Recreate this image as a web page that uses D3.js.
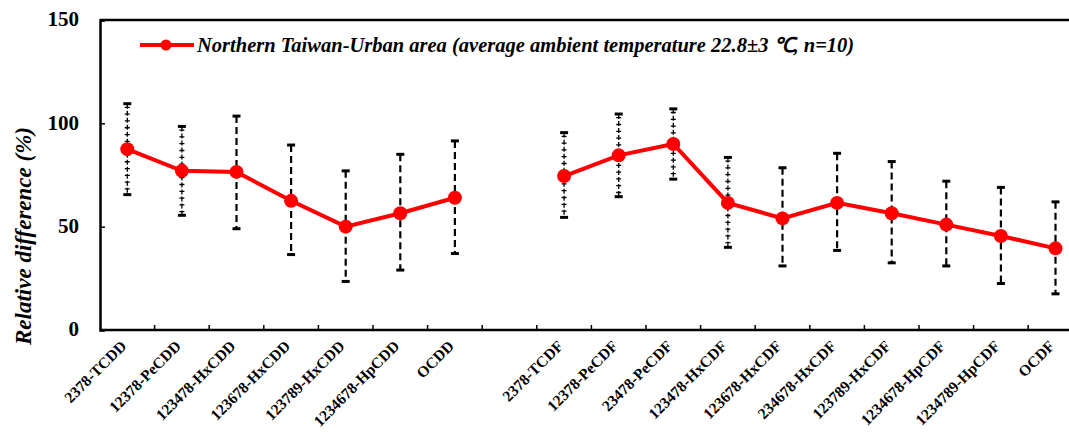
<!DOCTYPE html>
<html>
<head>
<meta charset="utf-8">
<script src="https://cdn.jsdelivr.net/npm/d3@7"></script>
<style>
  body { margin: 0; background: #fff; }
  text { font-family: "Liberation Serif", "Times New Roman", serif; }
</style>
</head>
<body>
<svg width="1069" height="435"></svg>
<script>
// congeners, with an empty slot between the PCDD and PCDF groups
let categories = ["2378-TCDD","12378-PeCDD","123478-HxCDD","123678-HxCDD","123789-HxCDD","1234678-HpCDD","OCDD",
                  "",
                  "2378-TCDF","12378-PeCDF","23478-PeCDF","123478-HxCDF","123678-HxCDF","234678-HxCDF","123789-HxCDF","1234678-HpCDF","1234789-HpCDF","OCDF"];
let means = [87.5, 77, 76.5, 62.5, 50, 56.5, 64,
             null,
             74.5, 84.5, 90, 61.5, 54, 61.5, 56.5, 51, 45.5, 39.5];
let upper = [109.5, 98.5, 103.5, 89.5, 77, 85, 91.5,
             null,
             95.5, 104.5, 107, 83.5, 78.5, 85.5, 81.5, 72, 69, 62];
let lower = [65.5, 55.5, 49, 36.5, 23.5, 29, 37,
             null,
             54.5, 64.5, 73, 40, 31, 38.5, 32.5, 31, 22.5, 17.5];
// error bar style: dotted for the first few of each group, dashed for the rest
let barStyle = ["dot","dot","dash","dash","dash","dash","dash",
                null,
                "dot","dot","dot","dot","dash","dash","dash","dash","dash","dash"];
let yTicks = [0, 50, 100, 150];
let seriesName = "Northern Taiwan-Urban area (average ambient temperature 22.8±3 ℃, n=10)";

let svg = d3.select("svg"),
    plotLeft = 100, plotTop = 20, plotBottom = 330,
    slot = 54.6;

let data = categories.map((c, i) => ({cat: c, key: i, mean: means[i], hi: upper[i], lo: lower[i], style: barStyle[i]}));

let x = d3.scaleBand()
    .domain(data.map(d => d.key))
    .range([plotLeft, plotLeft + slot * categories.length])
    .padding(0);

let y = d3.scaleLinear()
    .domain([0, 150])
    .range([plotBottom, plotTop]);

// frame: left axis, top line, bottom axis
svg.append("line").attr("x1", plotLeft).attr("x2", 1069).attr("y1", plotTop).attr("y2", plotTop)
    .attr("stroke", "#000").attr("stroke-width", 2.5);

let yAxis = svg.append("g")
    .attr("transform", "translate(" + plotLeft + ",0)")
    .call(d3.axisRight(y).tickValues(yTicks).tickSize(5).tickFormat(""));
yAxis.select(".domain").attr("stroke-width", 2.5);
yAxis.selectAll(".tick line").attr("stroke-width", 1.5);

svg.append("g").selectAll("text")
    .data(yTicks)
    .enter().append("text")
      .attr("x", 79)
      .attr("y", d => y(d))
      .attr("dy", "0.3em")
      .attr("text-anchor", "end")
      .attr("font-size", 21)
      .attr("font-weight", "bold")
      .text(d => d);

let tickPos = d3.range(1, categories.length).map(i => plotLeft + slot * i);
let xAxis = svg.append("g");
xAxis.append("line").attr("x1", plotLeft).attr("x2", 1069).attr("y1", plotBottom).attr("y2", plotBottom)
    .attr("stroke", "#000").attr("stroke-width", 2.5);
xAxis.selectAll(".xt")
    .data(tickPos)
    .enter().append("line")
      .attr("class", "xt")
      .attr("x1", d => d).attr("x2", d => d)
      .attr("y1", plotBottom).attr("y2", plotBottom - 5)
      .attr("stroke", "#000").attr("stroke-width", 1.5);

svg.append("g").selectAll("text")
    .data(data.filter(d => d.cat !== ""))
    .enter().append("text")
      .attr("transform", d => "translate(" + (x(d.key) + x.bandwidth() / 2) + "," + (plotBottom + 17) + ") rotate(-45)")
      .attr("text-anchor", "end")
      .attr("font-size", 15.5)
      .attr("font-weight", "bold")
      .text(d => d.cat);

// y title
svg.append("text")
    .attr("transform", "translate(31,236) rotate(-90)")
    .attr("text-anchor", "middle")
    .attr("font-size", 23)
    .attr("font-style", "italic")
    .attr("font-weight", "bold")
    .text("Relative difference (%)");

let cx = d => x(d.key) + x.bandwidth() / 2;
let pts = data.filter(d => d.mean != null);

// error bars
let bars = svg.append("g").selectAll("g")
    .data(pts)
    .enter().append("g");

bars.filter(d => d.style === "dash").append("line")
    .attr("x1", cx).attr("x2", cx)
    .attr("y1", d => y(d.hi)).attr("y2", d => y(d.lo))
    .attr("stroke", "#000").attr("stroke-width", 2.2)
    .attr("stroke-dasharray", "7,4");

bars.filter(d => d.style === "dot").append("line")
    .attr("x1", cx).attr("x2", cx)
    .attr("y1", d => y(d.hi)).attr("y2", d => y(d.lo))
    .attr("stroke", "#000").attr("stroke-width", 1.3)
    .attr("stroke-dasharray", "5,2");
bars.filter(d => d.style === "dot").append("line")
    .attr("x1", cx).attr("x2", cx)
    .attr("y1", d => y(d.hi) + 3).attr("y2", d => y(d.lo))
    .attr("stroke", "#000").attr("stroke-width", 5)
    .attr("stroke-dasharray", "1.3,5.5");

bars.selectAll(".cap")
    .data(d => [{x: cx(d), v: d.hi}, {x: cx(d), v: d.lo}])
    .enter().append("line")
      .attr("x1", c => c.x - 4).attr("x2", c => c.x + 4)
      .attr("y1", c => y(c.v)).attr("y2", c => y(c.v))
      .attr("stroke", "#000").attr("stroke-width", 3);

// series line, split at the empty slot
let line = d3.line()
    .defined(d => d.mean != null)
    .x(cx)
    .y(d => y(d.mean));

svg.append("path")
    .datum(data)
    .attr("fill", "none")
    .attr("stroke", "#ff0000")
    .attr("stroke-width", 4)
    .attr("d", line);

svg.append("g").selectAll("circle")
    .data(pts)
    .enter().append("circle")
      .attr("cx", cx)
      .attr("cy", d => y(d.mean))
      .attr("r", 7)
      .attr("fill", "#ff0000");

// legend
let legend = svg.append("g").attr("transform", "translate(140,45)");
legend.append("line").attr("x1", 0).attr("x2", 54).attr("y1", 0).attr("y2", 0)
    .attr("stroke", "#ff0000").attr("stroke-width", 4);
legend.append("circle").attr("cx", 26).attr("cy", 0).attr("r", 5.5).attr("fill", "#ff0000");
legend.append("text")
    .attr("x", 57)
    .attr("y", 0)
    .attr("dy", "0.33em")
    .attr("font-size", 20.5)
    .attr("font-style", "italic")
    .attr("font-weight", "bold")
    .text(seriesName);
</script>
</body>
</html>
